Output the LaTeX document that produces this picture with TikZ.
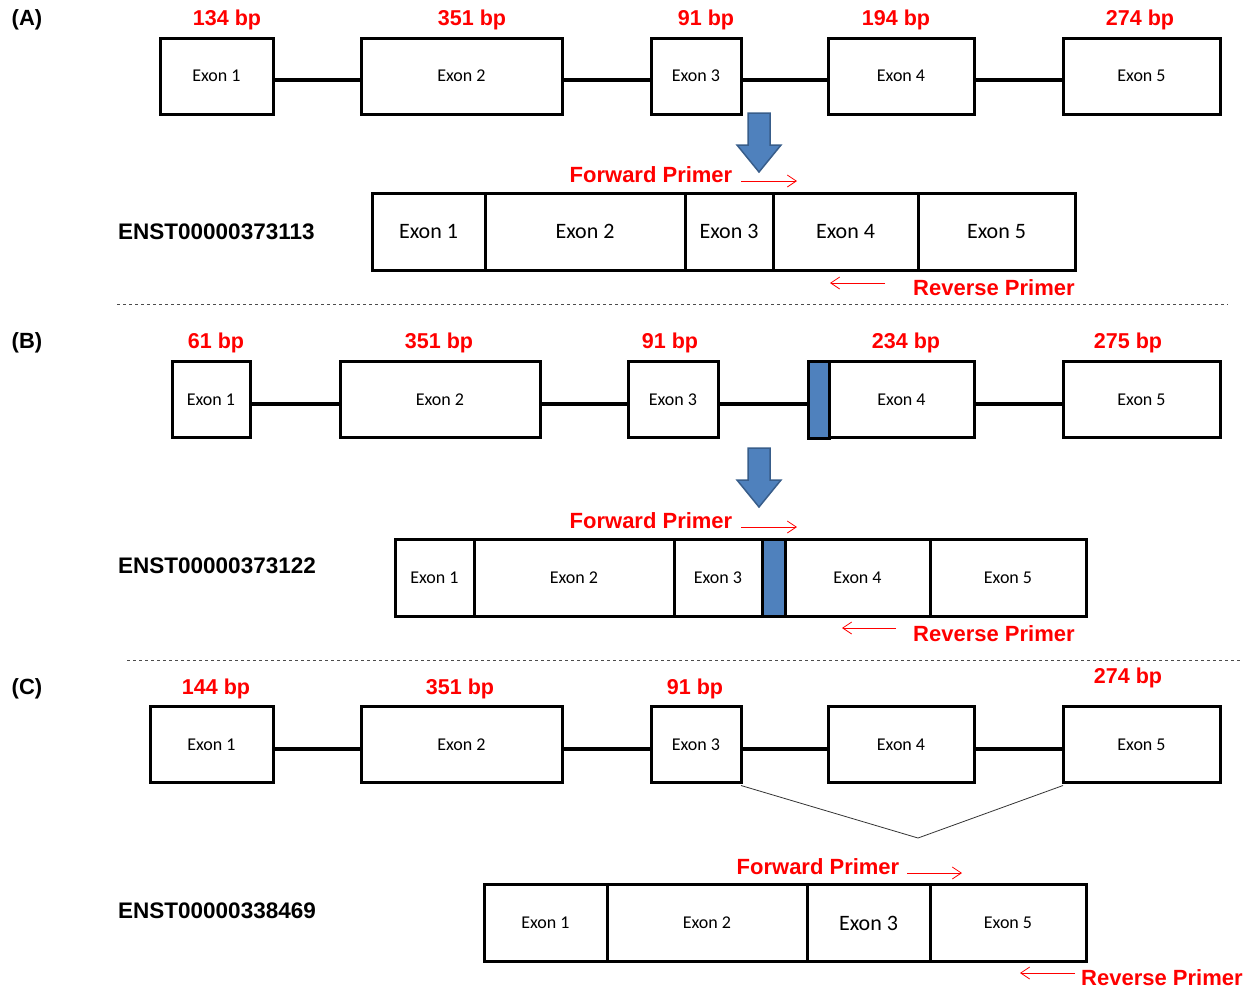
\documentclass[tikz,border=0pt]{standalone}
\usepackage{fontspec}
\setmainfont{Liberation Sans}
\newfontfamily\calfont{Carlito}
\usetikzlibrary{arrows.meta}
\definecolor{bluefill}{HTML}{4F81BD}
\definecolor{blueline}{HTML}{385D8A}
\definecolor{primred}{HTML}{FF0000}
\begin{document}
\begin{tikzpicture}[x=1pt,y=-1pt,
  exon/.style={draw, line width=3pt, minimum height=76, inner sep=0, font=\calfont\fontsize{18}{18}\selectfont},
  seg/.style={draw, line width=3pt, minimum height=77, inner sep=0, font=\calfont\fontsize{22}{22}\selectfont},
  segsmall/.style={seg, font=\calfont\fontsize{18}{18}\selectfont},
  bp/.style={text=primred, font=\bfseries\fontsize{21.5}{21.5}\selectfont, inner sep=0},
  sec/.style={font=\bfseries\fontsize{22}{22}\selectfont, inner sep=0},
  enst/.style={font=\bfseries\fontsize{22.5}{22.5}\selectfont, inner sep=0, anchor=west},
  primtxt/.style={text=primred, font=\bfseries\fontsize{22}{22}\selectfont, inner sep=0},
  primer/.style={draw=primred, line width=0.8pt, -{Straight Barb[length=9pt,width=12pt]}},
  intron/.style={line width=4pt},
  splice/.style={line width=0.8pt, draw=black!80},
  sep/.style={line width=0.8pt, dash pattern=on 3pt off 3pt, draw=black!70},
  bigarrow/.style={fill=bluefill, draw=blueline, line width=1.5pt, line join=miter}
]
\useasboundingbox (0,0) rectangle (1255,989);

% ---------------- (A) ----------------
\node[sec] (labA) at (27,20) {(A)};
\node[exon, minimum width=113] (a1) at (216.5,76) {Exon 1};
\node[exon, minimum width=201] (a2) at (461.5,76) {Exon 2};
\node[exon, minimum width=90]  (a3) at (696,76) {Exon 3};
\node[exon, minimum width=146] (a4) at (901,76) {Exon 4};
\node[exon, minimum width=157] (a5) at (1141.5,76) {Exon 5};
\foreach \p/\q in {a1/a2,a2/a3,a3/a4,a4/a5}
  \draw[intron] ([yshift=-4pt]\p.east) -- ([yshift=-4pt]\q.west);
\node[bp] (bpa1) at (227,20) {134 bp};
\node[bp] (bpa2) at (472,20) {351 bp};
\node[bp] (bpa3) at (706,20) {91 bp};
\node[bp] (bpa4) at (896,20) {194 bp};
\node[bp] (bpa5) at (1140,20) {274 bp};
\draw[bigarrow] (748,113) -- (770,113) -- (770,145) -- (781,145) -- (759,172) -- (737,145) -- (748,145) -- cycle;
\node[primtxt] (fpA) at (651,175) {Forward Primer};
\coordinate (fpAs) at (741,181);
\coordinate (fpAe) at (797,181);
\draw[primer] (fpAs) -- (fpAe);
\node[enst] (enA) at (118,232) {ENST00000373113};
\node[seg, minimum width=113] (ta1) at (428.5,231.5) {Exon 1};
\node[seg, minimum width=200] (ta2) at (585,231.5) {Exon 2};
\node[seg, minimum width=88]  (ta3) at (729,231.5) {Exon 3};
\node[seg, minimum width=145] (ta4) at (845.5,231.5) {Exon 4};
\node[seg, minimum width=157] (ta5) at (996.5,231.5) {Exon 5};
\coordinate (rpAs) at (885,283);
\coordinate (rpAe) at (830,283);
\draw[primer] (rpAs) -- (rpAe);
\node[primtxt, anchor=west] (rpA) at (913,288) {Reverse Primer};
\coordinate (sepA1) at (117,304);
\coordinate (sepA2) at (1228,304);
\draw[sep] (sepA1) -- (sepA2);

% ---------------- (B) ----------------
\node[sec] (labB) at (27,343) {(B)};
\node[exon, minimum width=78]  (b1) at (211,399.5) {Exon 1};
\node[exon, minimum width=200] (b2) at (440,399.5) {Exon 2};
\node[exon, minimum width=90]  (b3) at (673,399.5) {Exon 3};
\node[exon, minimum width=166] (b4) at (891,399.5) {\hspace*{21pt}Exon 4};
\node[exon, minimum width=157] (b5) at (1141.5,399.5) {Exon 5};
\node[draw, line width=3pt, fill=bluefill, minimum width=21, minimum height=77, inner sep=0] (b4blue) at (818.5,399.5) {};
\foreach \p/\q in {b1/b2,b2/b3,b3/b4,b4/b5}
  \draw[intron] ([yshift=-4pt]\p.east) -- ([yshift=-4pt]\q.west);
\node[bp] (bpb1) at (216,343) {61 bp};
\node[bp] (bpb2) at (439,343) {351 bp};
\node[bp] (bpb3) at (670,343) {91 bp};
\node[bp] (bpb4) at (906,343) {234 bp};
\node[bp] (bpb5) at (1128,343) {275 bp};
\draw[bigarrow] (748,448) -- (770,448) -- (770,480) -- (781,480) -- (759,507) -- (737,480) -- (748,480) -- cycle;
\node[primtxt] (fpB) at (651,521) {Forward Primer};
\coordinate (fpBs) at (741,527);
\coordinate (fpBe) at (797,527);
\draw[primer] (fpBs) -- (fpBe);
\node[enst] (enB) at (118,566) {ENST00000373122};
\node[segsmall, minimum width=79]  (tb1) at (434.5,577.5) {Exon 1};
\node[segsmall, minimum width=200] (tb2) at (574,577.5) {Exon 2};
\node[segsmall, minimum width=88]  (tb3) at (718,577.5) {Exon 3};
\node[seg, fill=bluefill, minimum width=23] (tbblue) at (773.5,577.5) {};
\node[segsmall, minimum width=145] (tb4) at (857.5,577.5) {Exon 4};
\node[segsmall, minimum width=156] (tb5) at (1008,577.5) {Exon 5};
\coordinate (rpBs) at (896,628);
\coordinate (rpBe) at (842,628);
\draw[primer] (rpBs) -- (rpBe);
\node[primtxt, anchor=west] (rpB) at (913,634) {Reverse Primer};
\coordinate (sepB1) at (127,660);
\coordinate (sepB2) at (1240,660);
\draw[sep] (sepB1) -- (sepB2);

% ---------------- (C) ----------------
\node[sec] (labC) at (27,689) {(C)};
\node[exon, minimum width=123] (c1) at (211.5,744.5) {Exon 1};
\node[exon, minimum width=201] (c2) at (461.5,744.5) {Exon 2};
\node[exon, minimum width=90]  (c3) at (696,744.5) {Exon 3};
\node[exon, minimum width=146] (c4) at (901,744.5) {Exon 4};
\node[exon, minimum width=157] (c5) at (1141.5,744.5) {Exon 5};
\foreach \p/\q in {c1/c2,c2/c3,c3/c4,c4/c5}
  \draw[intron] ([yshift=-4pt]\p.east) -- ([yshift=-4pt]\q.west);
\node[bp] (bpc1) at (216,689) {144 bp};
\node[bp] (bpc2) at (460,689) {351 bp};
\node[bp] (bpc3) at (695,689) {91 bp};
\node[bp] (bpc5) at (1128,678) {274 bp};
\coordinate (splV) at (918,838);
\draw[splice] ([xshift=-1.5pt,yshift=-1.5pt]c3.south east) -- (splV) -- ([xshift=1.5pt,yshift=-1.5pt]c5.south west);
\node[primtxt] (fpC) at (818,867) {Forward Primer};
\coordinate (fpCs) at (907,873);
\coordinate (fpCe) at (962,873);
\draw[primer] (fpCs) -- (fpCe);
\node[enst] (enC) at (118,911) {ENST00000338469};
\node[segsmall, minimum width=123] (tc1) at (545.5,923) {Exon 1};
\node[segsmall, minimum width=200] (tc2) at (707,923) {Exon 2};
\node[seg, minimum width=123]      (tc3) at (868.5,923) {Exon 3};
\node[segsmall, minimum width=156] (tc5) at (1008,923) {Exon 5};
\coordinate (rpCs) at (1075,973);
\coordinate (rpCe) at (1020,973);
\draw[primer] (rpCs) -- (rpCe);
\node[primtxt, anchor=west] (rpC) at (1081,978) {Reverse Primer};
\end{tikzpicture}
\end{document}
